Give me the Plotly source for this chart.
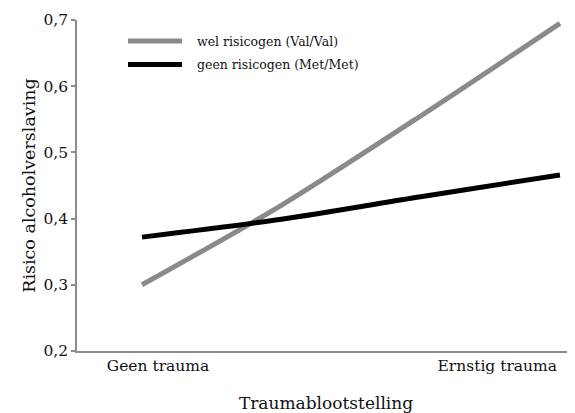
import plotly.graph_objects as go

trauma_level = [0, 1, 2, 3]
wel_risicogen = [0.300, 0.420, 0.555, 0.695]
geen_risicogen = [0.372, 0.399, 0.433, 0.466]
series_names = ["wel risicogen (Val/Val)", "geen risicogen (Met/Met)"]
category_labels = ["Geen trauma", "Ernstig trauma"]
y_ticks = [0.2, 0.3, 0.4, 0.5, 0.6, 0.7]

FONT = "DejaVu Serif"
GRAY = "#8a8a8a"
BLACK = "#000000"
AXIS = "#8c8c8c"

fig = go.Figure()
fig.add_trace(go.Scatter(x=trauma_level, y=wel_risicogen, mode="lines",
                         name=series_names[0],
                         line=dict(color=GRAY, width=5, shape="spline", smoothing=0.8),
                         showlegend=False))
fig.add_trace(go.Scatter(x=trauma_level, y=geen_risicogen, mode="lines",
                         name=series_names[1],
                         line=dict(color=BLACK, width=5, shape="spline", smoothing=0.8),
                         showlegend=False))

# the page body has an 8px margin; size the figure so it fits the window
OFF = 8
W, H = 575 - OFF, 413 - OFF
L, R, T, B = 77 - OFF, 0, 20 - OFF, 62
pw, ph = W - L - R, H - T - B

def px(x):  # window pixel -> paper
    return (x - OFF - L) / pw

def py(y):
    return (H - B - (y - OFF)) / ph

# manual legend
for i, (col, name) in enumerate(zip([GRAY, BLACK], series_names)):
    yy = 41 + i * 23.5
    fig.add_shape(type="line", xref="paper", yref="paper",
                  x0=px(128), x1=px(182), y0=py(yy), y1=py(yy),
                  line=dict(color=col, width=5))
    fig.add_annotation(xref="paper", yref="paper", x=px(195), y=py(yy),
                       text=name, showarrow=False, xanchor="left", yanchor="middle",
                       font=dict(family=FONT, size=12.5, color="#111"))

fig.update_layout(
    width=W, height=H,
    margin=dict(l=L, r=R, t=T, b=B, autoexpand=False),
    paper_bgcolor="white", plot_bgcolor="white",
    separators=",.",
    font=dict(family=FONT, color="#111"),
    xaxis=dict(range=[-0.4665, 3.108], showgrid=False, zeroline=False,
               automargin=False,
               showline=True, linecolor=AXIS, linewidth=1.5,
               tickmode="array", tickvals=[0.115, 2.55], ticktext=category_labels,
               ticks="", tickfont=dict(family=FONT, size=15.5, color="#111"),
               title=dict(text="Traumablootstelling", standoff=26,
                          font=dict(family=FONT, size=17, color="#111"))),
    yaxis=dict(range=[0.2, 0.7], showgrid=False, zeroline=False,
               automargin=False,
               showline=True, linecolor=AXIS, linewidth=1.5,
               tickmode="array", tickvals=y_ticks, tickformat=".1f",
               ticks="outside", ticklen=4, tickcolor=AXIS, tickwidth=1.5,
               tickfont=dict(family=FONT, size=15.5, color="#111"),
               title=dict(text="Risico alcoholverslaving", standoff=3,
                          font=dict(family=FONT, size=17.5, color="#111"))),
)

fig.write_html("out.html")
